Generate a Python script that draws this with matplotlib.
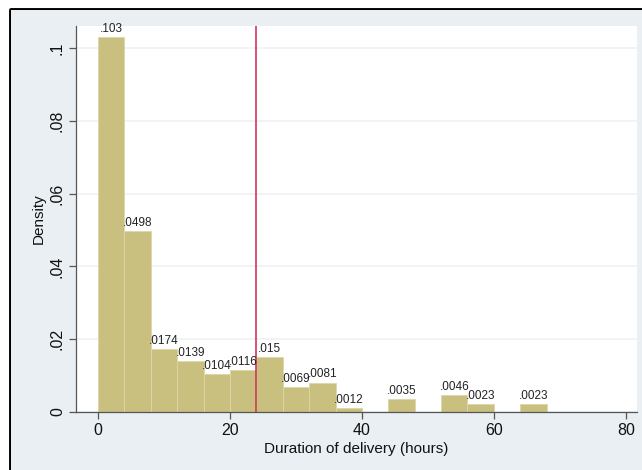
import numpy as np
import matplotlib.pyplot as plt
from matplotlib.patches import Rectangle
from matplotlib.lines import Line2D

plt.rcParams['font.family'] = ['Liberation Sans', 'DejaVu Sans']

# histogram bins (hours, width 4) and densities
bin_left = [0, 4, 8, 12, 16, 20, 24, 28, 32, 36, 40, 44, 48, 52, 56, 60, 64]
density = [0.103, 0.0498, 0.0174, 0.0139, 0.0104, 0.0116, 0.015, 0.0069,
           0.0081, 0.0012, 0.0, 0.0035, 0.0, 0.0046, 0.0023, 0.0, 0.0023]
bar_labels = ['.103', '.0498', '.0174', '.0139', '.0104', '.0116', '.015', '.0069',
              '.0081', '.0012', '', '.0035', '', '.0046', '.0023', '', '.0023']
bin_width = 4
cutoff = 24

x_ticks = [0, 20, 40, 60, 80]
y_ticks = [0, 0.02, 0.04, 0.06, 0.08, 0.1]
y_tick_labels = ['0', '.02', '.04', '.06', '.08', '.1']

bg = '#e9eff2'
bar_color = '#c9bf7e'

W, H = 642, 470
fig = plt.figure(figsize=(W / 100, H / 100), dpi=100, facecolor='white')

# graph region, framed by a dark line on the left and top
x_frame, y_frame = 11 / W, 1 - 10 / H
fig.patches.append(Rectangle((x_frame, 0), 1 - x_frame, y_frame,
                             transform=fig.transFigure, facecolor=bg,
                             edgecolor='none', zorder=-1))
fig.lines.append(Line2D([x_frame, x_frame, 1], [0, y_frame, y_frame],
                        transform=fig.transFigure, color='black',
                        linewidth=2.8, zorder=-1))

ax = fig.add_axes([76 / W, (H - 412) / H, (637 - 76) / W, (412 - 26) / H])
ax.set_zorder(1)
ax.set_facecolor('white')

ax.bar(bin_left, density, width=bin_width, align='edge', color=bar_color,
       edgecolor='#ddd6a8', linewidth=0.6, zorder=2)

for x0, d, lab in zip(bin_left, density, bar_labels):
    if lab:
        ax.annotate(lab, (x0 + bin_width / 2, d), xytext=(0, 1.5),
                    textcoords='offset points', ha='center', va='bottom',
                    fontsize=8.5, color='#222222', zorder=4)

ax.axvline(cutoff, color='#d0365a', linewidth=1.2, zorder=3)

ax.set_xlim(-3.35, 81.7)
ax.set_ylim(0, 0.106)
ax.set_xticks(x_ticks)
ax.set_yticks(y_ticks)
ax.set_yticklabels(y_tick_labels, rotation=90, va='center')
ax.tick_params(axis='both', labelsize=11.5, color='#555555', length=5,
               width=0.9, labelcolor='#111111', pad=3)

ax.yaxis.grid(True, color='#eef2f3', linewidth=1.2, zorder=0)
ax.set_axisbelow(True)

for side in ['top', 'right']:
    ax.spines[side].set_visible(False)
for side in ['left', 'bottom']:
    ax.spines[side].set_color('#555555')
    ax.spines[side].set_linewidth(0.9)

ax.set_xlabel('Duration of delivery (hours)', fontsize=11, color='#111111', labelpad=3)
ax.set_ylabel('Density', fontsize=11, color='#111111', labelpad=3)

fig.savefig('out.png', dpi=100, facecolor=fig.get_facecolor())
